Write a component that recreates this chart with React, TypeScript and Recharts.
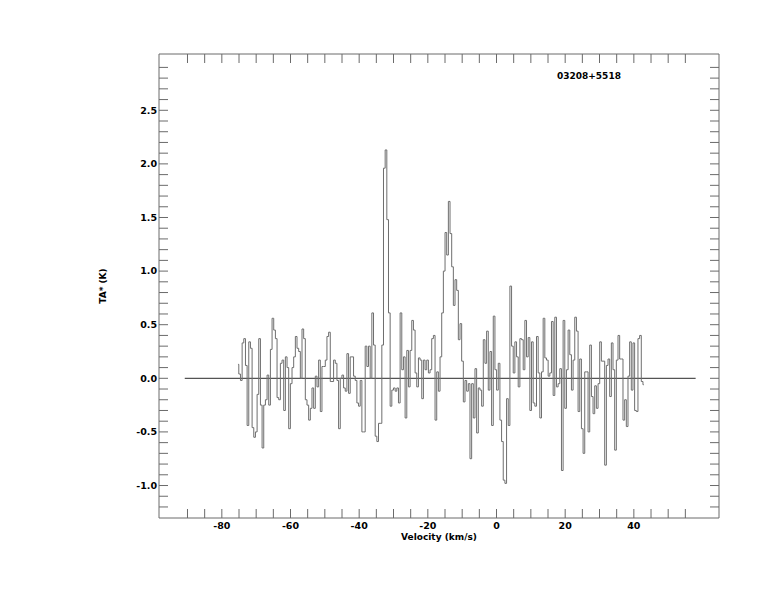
import React from "react";
import { LineChart, Line, XAxis, YAxis, ReferenceLine } from "recharts";

// antenna temperature TA* (K), one value per channel left to right
const chanA = [
  0.13, 0.04, -0.02, 0.33, 0.37, 0.12, -0.44, 0.34, 0.28, -0.46, -0.55, -0.5,
  -0.15, 0.37, -0.25, -0.65, -0.25, -0.2, 0.03, -0.25, 0.27, 0.56, 0.45, 0.37,
  -0.18, -0.2, 0.14, 0.17, -0.3, 0.2, 0.1, -0.47, -0.05, 0.1, 0.2,
];
const chanB = [
  0.39, 0.28, 0.25, 0.0, 0.46, 0.37, -0.2, -0.25, -0.39, -0.28, -0.09, -0.28,
  0.02, -0.08, 0.17, -0.31, 0.11, 0.11, 0.17, 0.39, 0.43, -0.03, -0.03, 0.17,
  0.14, -0.02, -0.47, 0.0, 0.03, -0.09, -0.12, 0.23, -0.14, 0.2, 0.2, 0.02,
  -0.02, -0.23, -0.26, -0.02, -0.5, -0.5,
];
const chanC = [
  0.3, 0.11, 0.3, 0.0, 0.61, 0.31, -0.54, -0.59, -0.42, -0.42, 0.31, 1.96,
  2.13, 1.48, 0.61, -0.26, -0.11, -0.09, -0.12, -0.09, -0.23, 0.61, 0.08, 0.2,
  -0.37, 0.26, -0.08, 0.26, 0.54, 0.45, 0.05, -0.08, 0.19, 0.17, -0.19, 0.17,
  0.08, 0.17, 0.05, 0.08, 0.37,
];
const chanD = [
  0.4, -0.39, 0.06, -0.12, 0.2, 0.61, 1.0, 1.36, 1.15, 1.65, 1.35, 1.04, 0.68,
  0.92, 0.82, 0.36, 0.51, 0.16, -0.22, -0.02, -0.12, -0.05, -0.75, -0.05,
  -0.37, 0.09, -0.51, -0.09, -0.11, -0.26, 0.36, 0.14, 0.44, -0.11, 0.25,
  -0.44, 0.58, 0.08, -0.11, 0.14, -0.39, -0.59, -0.95, -0.98,
];
const chanE = [
  -0.19, -0.44, 0.86, 0.3, 0.05, 0.34, 0.2, -0.08, 0.37, 0.36, 0.08, 0.54, 0.2,
  0.38, -0.3, 0.34, -0.23, -0.26, 0.39, 0.05, -0.37, 0.06, 0.56, 0.19, 0.17,
  0.02, 0.05, 0.53, -0.16, 0.57, -0.08, -0.05, 0.09, -0.86, 0.54, -0.28, 0.08,
  0.45, 0.22, -0.11, 0.17, 0.57, 0.44,
];
const chanF = [
  -0.31, 0.18, -0.47, -0.7, 0.06, 0.06, -0.5, 0.31, -0.17, -0.33, -0.07,
  -0.28, -0.05, 0.34, 0.16, 0.16, -0.81, 0.12, 0.18, -0.17, 0.33, 0.08, -0.67,
  0.17, 0.4, 0.18, 0.18, -0.39, -0.2, -0.45, 0.02, 0.34, -0.11, 0.33, -0.3,
  -0.31, 0.37, 0.4, -0.03, -0.06,
];

// velocity grid (km/s) of the first channel and channel spacing
const V_START = -75.3;
const V_STEP = 0.4844;

const xTicks = [
  -90, -85, -80, -75, -70, -65, -60, -55, -50, -45, -40, -35, -30, -25, -20,
  -15, -10, -5, 0, 5, 10, 15, 20, 25, 30, 35, 40, 45, 50, 55,
];
const yTicks = [
  -1.2, -1.1, -1.0, -0.9, -0.8, -0.7, -0.6, -0.5, -0.4, -0.3, -0.2, -0.1, 0.0,
  0.1, 0.2, 0.3, 0.4, 0.5, 0.6, 0.7, 0.8, 0.9, 1.0, 1.1, 1.2, 1.3, 1.4, 1.5,
  1.6, 1.7, 1.8, 1.9, 2.0, 2.1, 2.2, 2.3, 2.4, 2.5, 2.6, 2.7, 2.8, 2.9,
];
const X_DOMAIN = [-98.3, 64.8];
const Y_DOMAIN = [-1.303, 3.025];
const zeroLine = [
  { x: -90.8, y: 0 },
  { x: 58.0, y: 0 },
];

const SOURCE = "03208+5518";

const spectrum = [...chanA, ...chanB, ...chanC, ...chanD, ...chanE, ...chanF].map(
  (t, i) => ({ v: +(V_START + i * V_STEP).toFixed(3), t })
);

const FRAME = "#6a6a6a";
const tickFont = {
  fontSize: 9.5,
  fontFamily: "DejaVu Sans",
  fontWeight: "bold",
  fill: "#000",
};

const xLabel = (v: number) => (v % 20 === 0 ? String(v) : "");
const yLabel = (v: number) =>
  Math.abs(v * 2 - Math.round(v * 2)) < 1e-6 ? v.toFixed(1) : "";

export default function App() {
  return (
    <div style={{ position: "relative", width: 766, height: 596 }}>
      <LineChart
        width={766}
        height={596}
        data={spectrum}
        margin={{ top: 36, right: 45, bottom: 56, left: 111 }}
      >
        <XAxis
          xAxisId="b"
          dataKey="v"
          type="number"
          domain={X_DOMAIN}
          allowDataOverflow
          ticks={xTicks}
          interval={0}
          tickFormatter={xLabel}
          tickSize={-9}
          tickMargin={13}
          height={30}
          stroke={FRAME}
          tick={tickFont}
        />
        <XAxis
          xAxisId="t"
          orientation="top"
          dataKey="v"
          type="number"
          domain={X_DOMAIN}
          allowDataOverflow
          ticks={xTicks}
          interval={0}
          tickFormatter={() => ""}
          tickSize={-9}
          height={10}
          stroke={FRAME}
        />
        <YAxis
          yAxisId="l"
          type="number"
          domain={Y_DOMAIN}
          allowDataOverflow
          ticks={yTicks}
          interval={0}
          tickFormatter={yLabel}
          tickSize={-9}
          tickMargin={11}
          width={40}
          stroke={FRAME}
          tick={tickFont}
        />
        <YAxis
          yAxisId="r"
          orientation="right"
          type="number"
          domain={Y_DOMAIN}
          allowDataOverflow
          ticks={yTicks}
          interval={0}
          tickFormatter={() => ""}
          tickSize={-9}
          width={10}
          stroke={FRAME}
        />
        <ReferenceLine
          xAxisId="b"
          yAxisId="l"
          segment={zeroLine}
          stroke="#2a2a2a"
          strokeWidth={1}
        />
        <Line
          xAxisId="t"
          yAxisId="r"
          dataKey="t"
          stroke="none"
          dot={false}
          isAnimationActive={false}
        />
        <Line
          xAxisId="b"
          yAxisId="l"
          dataKey="t"
          type="step"
          stroke="#6e6e6e"
          strokeWidth={1}
          dot={false}
          isAnimationActive={false}
        />
      </LineChart>
      <svg
        width={766}
        height={596}
        style={{ position: "absolute", left: 0, top: 0, pointerEvents: "none" }}
      >
        <g fontFamily="DejaVu Sans" fontWeight="bold" fill="#000">
          <text x={549} y={70.5} fontSize={9}>
            {SOURCE}
          </text>
          <text x={431} y={532} fontSize={9} textAnchor="middle">
            Velocity (km/s)
          </text>
          <text
            x={98}
            y={278}
            fontSize={9}
            textAnchor="middle"
            transform="rotate(-90 98 278)"
          >
            TA* (K)
          </text>
        </g>
      </svg>
    </div>
  );
}
